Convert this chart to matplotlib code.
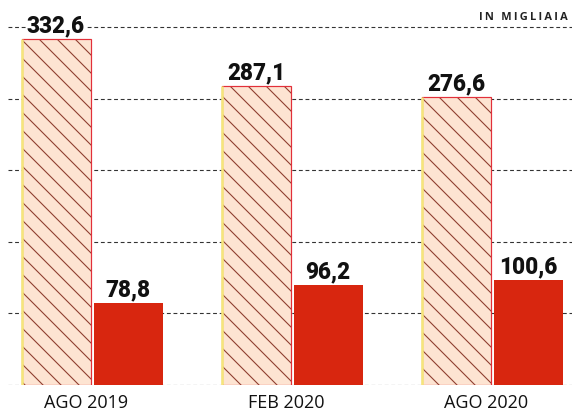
import numpy as np
import matplotlib.pyplot as plt

# values in thousands
PERIODS   = ["AGO 2019", "FEB 2020", "AGO 2020"]
HATCHED   = [332.6, 287.1, 276.6]
RED       = [78.8, 96.2, 100.6]
UNIT_NOTE = "IN MIGLIAIA"

RED_COL    = "#d8260f"
PEACH_COL  = "#fde4d2"
HATCH_COL  = "#8e3f30"
EDGE_COL   = "#e2303a"
YELLOW_COL = "#f5e67a"

# low dpi so the hatch lines come out as dense as in the print
DPI = 54
W, H = 572, 411


def pt(px):
    return px * 72 / DPI


def fmt(v):
    return f"{v:.1f}".replace(".", ",")


plt.rcParams["hatch.linewidth"] = pt(1.1)
plt.rcParams["hatch.color"] = HATCH_COL

fig = plt.figure(figsize=(W / DPI, H / DPI), dpi=DPI)
ax  = fig.add_axes([0, 26 / H, 1, 385 / H])

x     = np.arange(len(PERIODS))
width = 0.345
off   = 0.18

# dashed grid, behind the bars
for gy in np.arange(0, 345, 68.8):
    ax.hlines(gy, -0.42, 2.4, colors="#333333",
              linestyles=(0, (3.5, 2.5)), linewidth=pt(1.1), zorder=0)

ax.bar(x - off, HATCHED, width, color=PEACH_COL, hatch="\\",
       edgecolor=HATCH_COL, linewidth=0, zorder=2)
ax.bar(x - off, HATCHED, width, fill=False, edgecolor=EDGE_COL,
       linewidth=pt(1.2), zorder=3)
ax.vlines(x - off - width / 2, 0, HATCHED, colors=YELLOW_COL,
          linewidth=pt(2.5), zorder=3)
ax.bar(x + off, RED, width, color=RED_COL, linewidth=0, zorder=2)

for xs, vals in [(x - off, HATCHED), (x + off, RED)]:
    for xi, v in zip(xs, vals):
        ax.annotate(fmt(v), (xi, v), xytext=(0, pt(7)),
                    textcoords="offset points", ha="center", va="baseline",
                    fontsize=pt(22.5), fontweight="black", family="Roboto",
                    color="#111111", zorder=4,
                    bbox=dict(facecolor="white", edgecolor="none", pad=pt(1)))

ax.set_xlim(-0.46, 2.4)
ax.set_ylim(0, 370.2)
ax.set_xticks(x - 0.03)
ax.set_xticklabels(PERIODS, family="Open Sans", fontsize=pt(18),
                   color="#111111")
ax.tick_params(axis="x", length=0, pad=pt(9))
ax.set_yticks([])
for s in ax.spines.values():
    s.set_visible(False)

spaced = "\u2009".join(UNIT_NOTE)
fig.text(568 / W, 1 - 17 / H, spaced, ha="right", va="center",
         family=["Open Sans", "DejaVu Sans"], fontweight="bold",
         fontsize=pt(11), color="#222222")

fig.savefig("out.png", dpi=DPI)
